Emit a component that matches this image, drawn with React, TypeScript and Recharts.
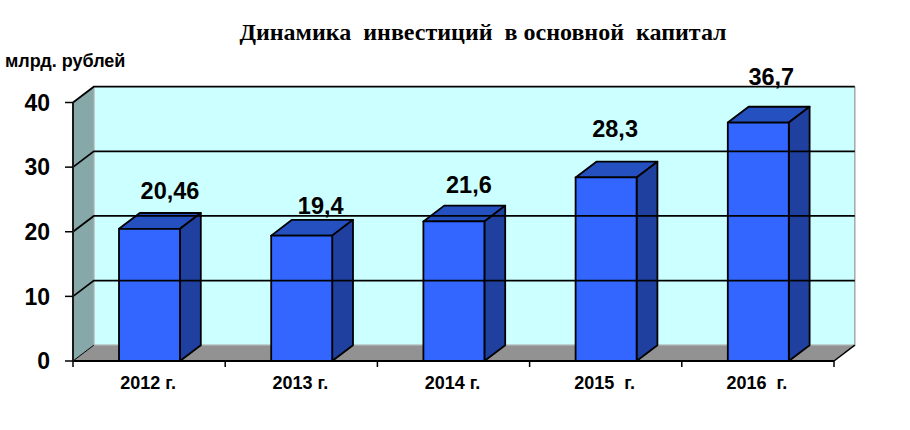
import React from "react";
import { BarChart, Bar, XAxis, YAxis, ReferenceArea, ReferenceLine, LabelList } from "recharts";

const categories = ["2012 г.", "2013 г.", "2014 г.", "2015  г.", "2016  г."];
const investments = [20.46, 19.4, 21.6, 28.4, 36.9];
const valueLabels = ["20,46", "19,4", "21,6", "28,3", "36,7"];
const yTicks = [0, 10, 20, 30, 40];
const labelNudgeX = [20.5, 19, 15, 9, 13];
const labelNudgeY = [38, 30, 36, 48, 46];

const data = categories.map((category, i) => ({ category, value: investments[i], label: valueLabels[i] }));

const DX = 20.8;
const DY = -15.8;
const BAND = 152.2;
const ARIAL = "'Liberation Sans', Arial, sans-serif";

const Walls = (p: any) => {
  const { x, y, width: w, height: h } = p;
  const b = y + h;
  const r = x + w;
  return (
    <g>
      <rect x={x + DX} y={y + DY} width={w} height={h} fill="#CCFFFF" />
      <polygon points={`${x},${y} ${x + DX},${y + DY} ${x + DX},${b + DY} ${x},${b}`} fill="#86A8A8" />
      <polygon points={`${x},${b} ${x + DX},${b + DY} ${r + DX},${b + DY} ${r},${b}`} fill="#929292" />
      <path d={`M${x + DX},${y + DY} V${b + DY} H${r + DX} V${y + DY}`} fill="none" stroke="#A8A8A8" strokeWidth={1.5} />
      <line x1={r} y1={b} x2={r + DX} y2={b + DY} stroke="#000" strokeWidth={1.5} />
      <line x1={x} y1={b} x2={x + DX} y2={b + DY} stroke="#000" strokeWidth={1} />
    </g>
  );
};

const GridLine = (p: any) => {
  const { x1, y1, x2 } = p;
  if (x1 === undefined) return null;
  return (
    <path
      d={`M${x1},${y1} L${x1 + DX},${y1 + DY} H${x2 + DX}`}
      fill="none"
      stroke="#000"
      strokeWidth={1.7}
    />
  );
};

const Box = (p: any) => {
  const { x, y, width: w, height: h } = p;
  const line = { stroke: "#000", strokeWidth: 1.8, strokeLinejoin: "round" as const };
  return (
    <g>
      <polygon points={`${x},${y} ${x + DX},${y + DY} ${x + w + DX},${y + DY} ${x + w},${y}`} fill="#2450C0" {...line} />
      <polygon
        points={`${x + w},${y} ${x + w + DX},${y + DY} ${x + w + DX},${y + h + DY} ${x + w},${y + h}`}
        fill="#2040A0"
        {...line}
      />
      <rect x={x} y={y} width={w} height={h} fill="#3366FF" {...line} />
    </g>
  );
};

const ValueLabel = (p: any) => {
  const { x, y, width, value, index } = p;
  return (
    <text
      x={x + width / 2 + labelNudgeX[index]}
      y={y - labelNudgeY[index]}
      textAnchor="middle"
      dominantBaseline="central"
      fontFamily={ARIAL}
      fontWeight="bold"
      fontSize={23.5}
      fill="#000"
    >
      {value}
    </text>
  );
};

const CategoryTick = (p: any) => {
  const { x, y, payload, index } = p;
  const top = y - 8;
  return (
    <g>
      <line x1={x - BAND / 2} y1={top} x2={x - BAND / 2} y2={top + 6} stroke="#000" strokeWidth={1.5} />
      {index === categories.length - 1 && (
        <line x1={x + BAND / 2} y1={top} x2={x + BAND / 2} y2={top + 6} stroke="#000" strokeWidth={1.5} />
      )}
      <text
        x={x - 1}
        y={top + 21.5}
        textAnchor="middle"
        dominantBaseline="central"
        fontFamily={ARIAL}
        fontWeight="bold"
        fontSize={18}
        fill="#000"
        style={{ whiteSpace: "pre" }}
      >
        {payload.value}
      </text>
    </g>
  );
};

export default function App() {
  return (
    <div style={{ position: "absolute", left: 0, top: 0, width: 910, height: 430, background: "#fff" }}>
      <BarChart
        width={910}
        height={430}
        data={data}
        margin={{ top: 102.5, right: 76, bottom: 0, left: 0 }}
        barSize={61}
      >
        <ReferenceArea y1={0} y2={40} shape={<Walls />} ifOverflow="visible" stroke="none" />
        {yTicks.slice(1).map((v) => (
          <ReferenceLine key={v} y={v} shape={<GridLine />} ifOverflow="visible" />
        ))}
        <XAxis
          dataKey="category"
          height={69}
          interval={0}
          axisLine={{ stroke: "#000", strokeWidth: 1.8 }}
          tickLine={false}
          tick={<CategoryTick />}
        />
        <YAxis
          width={73}
          domain={[0, 40]}
          ticks={yTicks}
          interval={0}
          axisLine={{ stroke: "#1a1a1a", strokeWidth: 2 }}
          tickLine={{ stroke: "#000", strokeWidth: 1.5 }}
          tickSize={8}
          tickMargin={15}
          tick={{ fontFamily: ARIAL, fontWeight: "bold", fontSize: 23, fill: "#000" }}
        />
        <Bar dataKey="value" shape={<Box />} isAnimationActive={false}>
          <LabelList dataKey="label" content={<ValueLabel />} />
        </Bar>
        <text
          x={483}
          y={32}
          textAnchor="middle"
          dominantBaseline="central"
          fontFamily="'Liberation Serif', 'Times New Roman', serif"
          fontWeight="bold"
          fontSize={24}
          fill="#000"
          style={{ whiteSpace: "pre" }}
        >
          Динамика  инвестиций  в основной  капитал
        </text>
        <text
          x={5}
          y={61}
          dominantBaseline="central"
          fontFamily={ARIAL}
          fontWeight="bold"
          fontSize={18}
          fill="#000"
        >
          млрд. рублей
        </text>
      </BarChart>
    </div>
  );
}
